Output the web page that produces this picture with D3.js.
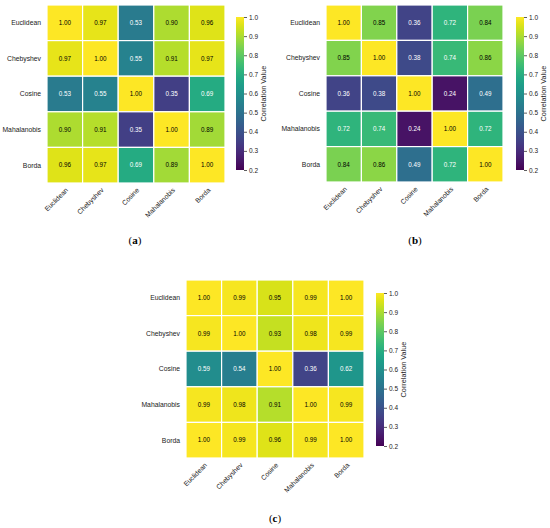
<!DOCTYPE html>
<html lang="en">
<head>
<meta charset="utf-8">
<title>Correlation heatmaps</title>
<script src="https://d3js.org/d3.v7.min.js"></script>
<style>
  body { margin: 0; background: #fff; }
  text { font-family: 'Liberation Sans', Arial, sans-serif; }
  .caption { font-family: 'Liberation Serif', 'Times New Roman', serif; }
</style>
</head>
<body>
<script>
// category labels (rows and columns are the same)
var labels = ["Euclidean", "Chebyshev", "Cosine", "Mahalanobis", "Borda"];

// panel (a)
var valuesA = [
  [1.00, 0.97, 0.53, 0.90, 0.96],
  [0.97, 1.00, 0.55, 0.91, 0.97],
  [0.53, 0.55, 1.00, 0.35, 0.69],
  [0.90, 0.91, 0.35, 1.00, 0.89],
  [0.96, 0.97, 0.69, 0.89, 1.00]
];
// panel (b)
var valuesB = [
  [1.00, 0.85, 0.36, 0.72, 0.84],
  [0.85, 1.00, 0.38, 0.74, 0.86],
  [0.36, 0.38, 1.00, 0.24, 0.49],
  [0.72, 0.74, 0.24, 1.00, 0.72],
  [0.84, 0.86, 0.49, 0.72, 1.00]
];
// panel (c)
var valuesC = [
  [1.00, 0.99, 0.95, 0.99, 1.00],
  [0.99, 1.00, 0.93, 0.98, 0.99],
  [0.59, 0.54, 1.00, 0.36, 0.62],
  [0.99, 0.98, 0.91, 1.00, 0.99],
  [1.00, 0.99, 0.96, 0.99, 1.00]
];

var colorTicks = [0.2, 0.3, 0.4, 0.5, 0.6, 0.7, 0.8, 0.9, 1.0];
var captions = ["(a)", "(b)", "(c)"];

var w = 550, h = 528;
var svg = d3.select("body").append("svg").attr("width", w).attr("height", h);

var color = d3.scaleSequential(d3.interpolateViridis).domain([0.2, 1.0]);

// seaborn style: dark text on light cells
function textColor(c) {
  var rgb = d3.rgb(c);
  var lin = [rgb.r, rgb.g, rgb.b].map(function(v) {
    v = v / 255;
    return v <= 0.03928 ? v / 12.92 : Math.pow((v + 0.055) / 1.055, 2.4);
  });
  var lum = 0.2126 * lin[0] + 0.7152 * lin[1] + 0.0722 * lin[2];
  return lum > 0.408 ? "#000" : "#fff";
}

// gradient for colorbars
var grad = svg.append("defs").append("linearGradient")
  .attr("id", "viridis").attr("x1", 0).attr("y1", 1).attr("x2", 0).attr("y2", 0);
d3.range(0, 1.0001, 0.05).forEach(function(t) {
  grad.append("stop").attr("offset", t).attr("stop-color", d3.interpolateViridis(t));
});

function drawPanel(values, caption, p) {
  var g = svg.append("g");

  var x = d3.scaleBand().domain(labels).range([p.x0, p.x0 + p.size]);
  var y = d3.scaleBand().domain(labels).range([p.y0, p.y0 + p.size]);

  var cells = [];
  values.forEach(function(row, i) {
    row.forEach(function(v, j) {
      cells.push({ r: labels[i], c: labels[j], v: v });
    });
  });

  g.selectAll("rect.cell")
    .data(cells)
    .enter().append("rect")
    .attr("class", "cell")
    .attr("x", function(d) { return x(d.c); })
    .attr("y", function(d) { return y(d.r); })
    .attr("width", x.bandwidth())
    .attr("height", y.bandwidth())
    .attr("fill", function(d) { return color(d.v); })
    .attr("stroke", "#fff")
    .attr("stroke-width", 1.2);

  g.selectAll("text.val")
    .data(cells)
    .enter().append("text")
    .attr("class", "val")
    .attr("x", function(d) { return x(d.c) + x.bandwidth() / 2; })
    .attr("y", function(d) { return y(d.r) + y.bandwidth() / 2; })
    .attr("dy", "0.35em")
    .attr("text-anchor", "middle")
    .attr("font-size", 6.3)
    .attr("fill", function(d) { return textColor(color(d.v)); })
    .text(function(d) { return d3.format(".2f")(d.v); });

  // row labels
  g.selectAll("text.rowlab")
    .data(labels)
    .enter().append("text")
    .attr("class", "rowlab")
    .attr("x", p.x0 - 6)
    .attr("y", function(d) { return y(d) + y.bandwidth() / 2; })
    .attr("dy", "0.35em")
    .attr("text-anchor", "end")
    .attr("font-size", 6.8)
    .attr("fill", "#222")
    .text(function(d) { return d; });

  // column labels, rotated 45 deg
  g.selectAll("text.collab")
    .data(labels)
    .enter().append("text")
    .attr("class", "collab")
    .attr("transform", function(d) {
      return "translate(" + (x(d) + x.bandwidth() / 2 + 2) + "," + (p.y0 + p.size + 6) + ") rotate(-45)";
    })
    .attr("dy", "0.35em")
    .attr("text-anchor", "end")
    .attr("font-size", 6.8)
    .attr("fill", "#222")
    .text(function(d) { return d; });

  // colorbar
  var cb = d3.scaleLinear().domain([0.2, 1.0]).range([p.cbY1, p.cbY0]);
  g.append("rect")
    .attr("x", p.cbX).attr("y", p.cbY0)
    .attr("width", 8).attr("height", p.cbY1 - p.cbY0)
    .attr("fill", "url(#viridis)");

  var axis = d3.axisRight(cb).tickValues(colorTicks).tickFormat(d3.format(".1f")).tickSize(3).tickPadding(2);
  var ax = g.append("g")
    .attr("transform", "translate(" + (p.cbX + 8) + ",0)")
    .call(axis);
  ax.select(".domain").remove();
  ax.selectAll("line").attr("stroke", "#333").attr("stroke-width", 0.8);
  ax.selectAll("text").attr("font-size", 6.5).attr("fill", "#222")
    .attr("font-family", "'Liberation Sans', Arial, sans-serif");

  g.append("text")
    .attr("transform", "translate(" + (p.cbX + 30) + "," + ((p.cbY0 + p.cbY1) / 2) + ") rotate(-90)")
    .attr("text-anchor", "middle")
    .attr("font-size", 7.3)
    .attr("fill", "#222")
    .text("Correlation Value");

  // caption
  var cap = g.append("text")
    .attr("class", "caption")
    .attr("x", p.capX).attr("y", p.capY)
    .attr("dy", "0.35em")
    .attr("text-anchor", "middle")
    .attr("font-size", 11)
    .attr("fill", "#000");
  cap.append("tspan").text("(");
  cap.append("tspan").attr("font-weight", "bold").text(caption.slice(1, -1));
  cap.append("tspan").text(")");
}

drawPanel(valuesA, captions[0], { x0: 47, y0: 5, size: 178, cbX: 236, cbY0: 17, cbY1: 170, capX: 135, capY: 240 });
drawPanel(valuesB, captions[1], { x0: 326, y0: 5, size: 177, cbX: 516, cbY0: 17, cbY1: 170, capX: 415, capY: 240 });
drawPanel(valuesC, captions[2], { x0: 186, y0: 280, size: 178, cbX: 376, cbY0: 293, cbY1: 446, capX: 275, capY: 518 });
</script>
</body>
</html>
